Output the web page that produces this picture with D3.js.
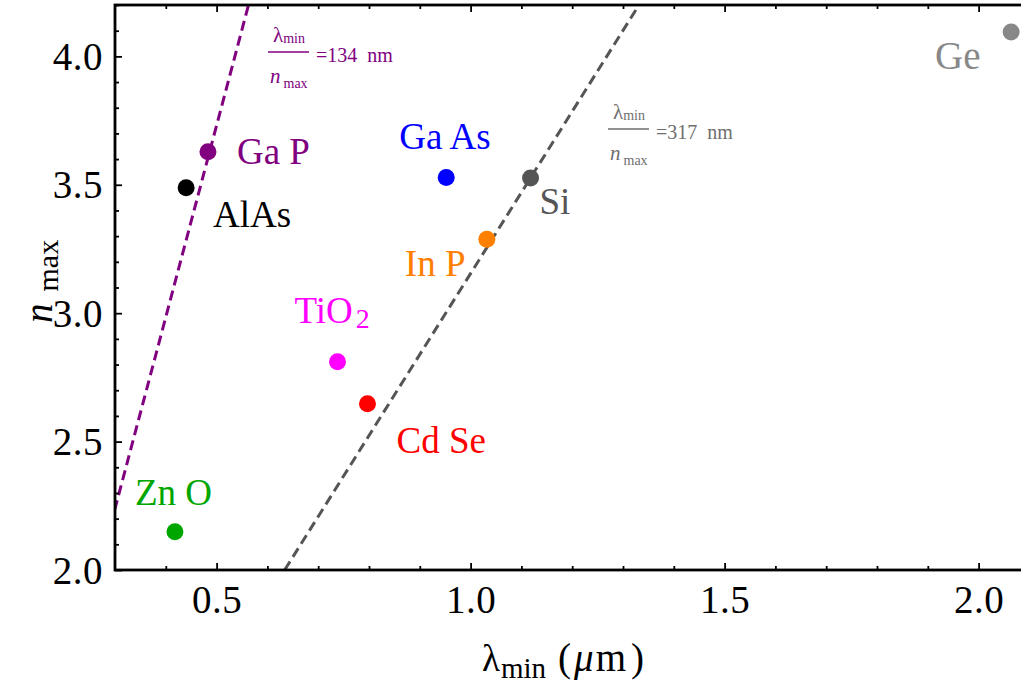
<!DOCTYPE html>
<html>
<head>
<meta charset="utf-8">
<script src="https://cdn.jsdelivr.net/npm/d3@7"></script>
<style>
  html, body { margin: 0; padding: 0; background: #fff; }
  svg { display: block; font-family: "Liberation Serif", "Times New Roman", serif; }
</style>
</head>
<body>
<svg id="chart" width="1021" height="683"></svg>
<script>
// ---- data ----
const materials = ["Ga P", "AlAs", "Ga As", "Si", "In P", "TiO2", "Cd Se", "Zn O", "Ge"];
const lambdaMin = [0.483, 0.440, 0.952, 1.118, 1.032, 0.738, 0.797, 0.418, 2.064]; // µm
const nMax      = [3.629, 3.488, 3.528, 3.526, 3.288, 2.811, 2.647, 2.149, 4.095];
const ratioNm   = [134, 317];           // lambda_min / n_max lines, nm
const xMajorTicks = [0.5, 1.0, 1.5, 2.0];
const yMajorTicks = [2.0, 2.5, 3.0, 3.5, 4.0];
const xTickLabels = ["0.5", "1.0", "1.5", "2.0"];
const yTickLabels = ["2.0", "2.5", "3.0", "3.5", "4.0"];

// ---- styles / layout ----
const colors = ["#800080", "#000000", "#0000ff", "#555555", "#ff8000", "#ff00ff", "#ff0000", "#00a600", "#888888"];
const lineColors = ["#800080", "#555555"];
const annColors = ["#800080", "#6e6e6e"];
// label offsets (text start, baseline) relative to marker, px
const labelOffset = [[29, 12], [27, 39], [-47, -29], [9, 36], [-82, 37], [-43, -39], [29, 49], [-40, -27], [-76, 37]];

const svg = d3.select("#chart");
const pL = 115, pT = 5, pB = 570;
const x = d3.scaleLinear().domain([0.3, 2.1]).range([pL, pL + 1.8 * 508]);
const y = d3.scaleLinear().domain([2.0, 4.2]).range([pB, pT]);
const pR = x(2.1);

svg.append("defs").append("clipPath").attr("id", "plotclip")
  .append("rect").attr("x", pL).attr("y", pT).attr("width", pR - pL).attr("height", pB - pT);

// ---- ratio lines ----
const nDom = y.domain();
ratioNm.forEach((r, i) => {
  const pts = nDom.map(n => [x(n * r / 1000), y(n)]);
  svg.append("path")
    .attr("clip-path", "url(#plotclip)")
    .attr("d", d3.line()(pts))
    .attr("fill", "none")
    .attr("stroke", lineColors[i])
    .attr("stroke-width", 3)
    .attr("stroke-dasharray", "10,5.5");
});

// ---- axes ----
const xMinor = d3.range(0.4, 2.101, 0.1).map(v => +v.toFixed(2)).filter(v => !xMajorTicks.includes(v));
const yMinor = d3.range(2.1, 4.201, 0.1).map(v => +v.toFixed(2)).filter(v => !yMajorTicks.includes(v));

function styleAxis(g) {
  g.select(".domain").remove();
  g.selectAll(".tick line").attr("stroke", "#000").attr("stroke-width", 1.8);
  g.selectAll("text").attr("font-size", 39).attr("fill", "#000")
    .attr("letter-spacing", 0.5)
    .attr("font-family", "Liberation Serif, Times New Roman, serif");
}

// bottom
svg.append("g").attr("transform", `translate(0,${pB})`)
  .call(d3.axisBottom(x).tickValues(xMajorTicks).tickSize(-7).tickFormat((d, i) => xTickLabels[i]))
  .call(styleAxis)
  .call(g => g.selectAll("text").attr("y", 43).attr("dy", 0));
svg.append("g").attr("transform", `translate(0,${pB})`)
  .call(d3.axisBottom(x).tickValues(xMinor).tickSize(-4).tickFormat(""))
  .call(styleAxis);
// top
svg.append("g").attr("transform", `translate(0,${pT})`)
  .call(d3.axisTop(x).tickValues(xMajorTicks).tickSize(-7).tickFormat(""))
  .call(styleAxis);
svg.append("g").attr("transform", `translate(0,${pT})`)
  .call(d3.axisTop(x).tickValues(xMinor).tickSize(-4).tickFormat(""))
  .call(styleAxis);
// left
svg.append("g").attr("transform", `translate(${pL},0)`)
  .call(d3.axisLeft(y).tickValues(yMajorTicks).tickSize(-7).tickFormat((d, i) => yTickLabels[i]))
  .call(styleAxis)
  .call(g => g.selectAll("text").attr("x", -12).attr("dy", 0).attr("y", 13));
svg.append("g").attr("transform", `translate(${pL},0)`)
  .call(d3.axisLeft(y).tickValues(yMinor).tickSize(-4).tickFormat(""))
  .call(styleAxis);
// right
svg.append("g").attr("transform", `translate(${pR},0)`)
  .call(d3.axisRight(y).tickValues(yMajorTicks).tickSize(-7).tickFormat(""))
  .call(styleAxis);

// frame
svg.append("rect").attr("x", pL).attr("y", pT).attr("width", pR - pL).attr("height", pB - pT)
  .attr("fill", "none").attr("stroke", "#000").attr("stroke-width", 2.8);

// ---- points ----
svg.append("g").selectAll("circle").data(materials).join("circle")
  .attr("cx", (d, i) => x(lambdaMin[i]))
  .attr("cy", (d, i) => y(nMax[i]))
  .attr("r", 8.5)
  .attr("fill", (d, i) => colors[i]);

// ---- labels ----
materials.forEach((m, i) => {
  const t = svg.append("text")
    .attr("x", x(lambdaMin[i]) + labelOffset[i][0])
    .attr("y", y(nMax[i]) + labelOffset[i][1])
    .attr("font-size", i === 8 ? 39 : 37)
    .attr("fill", colors[i]);
  const match = m.match(/^(.*?)(\d+)$/);
  if (match) {
    t.append("tspan").text(match[1]);
    t.append("tspan").attr("font-size", 28).attr("dy", 5).attr("dx", 3).text(match[2]);
  } else {
    t.text(m);
  }
});

// ---- ratio annotations ----
const annPos = [[268, 52], [608, 129]]; // fraction bar left, y
ratioNm.forEach((r, i) => {
  const [ax, ay] = annPos[i];
  const c = annColors[i];
  const g = svg.append("g").attr("fill", c);
  const num = g.append("text").attr("x", ax + 5).attr("y", ay - 10.5).attr("font-size", 21);
  num.append("tspan").text("λ");
  num.append("tspan").attr("font-size", 14).attr("dy", 1).text("min");
  g.append("line").attr("x1", ax).attr("x2", ax + 41).attr("y1", ay).attr("y2", ay)
    .attr("stroke", c).attr("stroke-width", 1.3);
  const den = g.append("text").attr("x", ax + 2).attr("y", ay + 31).attr("font-size", 21);
  den.append("tspan").attr("font-style", "italic").text("n");
  den.append("tspan").attr("font-size", 14).attr("dx", 3).attr("dy", 5).text("max");
  g.append("text").attr("x", ax + 48).attr("y", ay + 10).attr("font-size", 20)
    .text(`=${r}\u2002nm`);
});

// ---- axis titles ----
const xt = svg.append("text").attr("x", 482).attr("y", 671).attr("font-size", 37).attr("fill", "#000");
xt.append("tspan").text("λ");
xt.append("tspan").attr("font-size", 29).attr("dy", 7).attr("dx", 1).text("min");
xt.append("tspan").attr("dy", -7).attr("dx", 12).attr("font-size", 39).text("(");
xt.append("tspan").attr("font-style", "italic").attr("dx", 3).attr("font-size", 39).text("μ");
xt.append("tspan").attr("dx", 2).attr("font-size", 39).text("m");
xt.append("tspan").attr("dx", 5).attr("font-size", 39).text(")");

const yt = svg.append("text").attr("transform", "translate(52,323) rotate(-90)")
  .attr("font-size", 37).attr("fill", "#000");
yt.append("tspan").attr("font-style", "italic").attr("font-size", 39).text("n");
yt.append("tspan").attr("font-size", 30).attr("dx", 12).attr("dy", 6).text("max");
</script>
</body>
</html>
